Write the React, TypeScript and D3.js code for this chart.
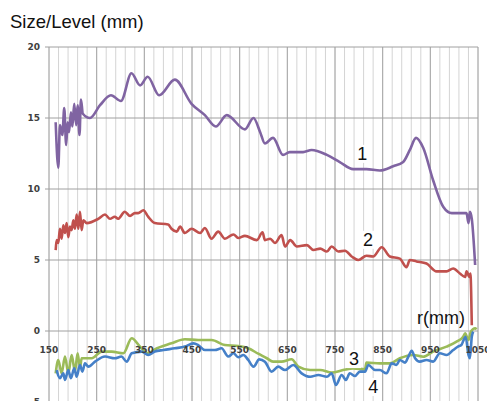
import { line, curveMonotoneX, range, scaleLinear } from 'd3';

// Radial profile: size/level (mm) against r (mm), four measured curves.

const s1X = [164, 169.5, 173, 178, 182, 186, 189, 192, 196, 199, 203, 207, 210, 214, 217, 221, 236, 257, 280, 301, 323, 341, 357, 381, 414, 449, 477, 500, 523, 561, 579, 593, 603, 620, 641, 655, 683, 701, 733, 760, 788, 816, 844, 872, 893, 907, 920, 935, 956, 977, 995, 1026, 1030, 1033, 1037, 1044];
const s1Y = [14.7, 11.5, 14.5, 13.8, 15.7, 13.1, 14.7, 14.0, 15.4, 14.4, 16.0, 14.5, 15.9, 13.8, 16.3, 15.3, 15.0, 15.9, 16.6, 16.2, 18.15, 17.3, 17.9, 16.6, 17.7, 16.0, 15.2, 14.4, 15.2, 14.2, 15.0, 14.0, 13.2, 13.6, 12.4, 12.6, 12.6, 12.75, 12.4, 11.9, 11.4, 11.4, 11.3, 11.6, 11.9, 12.75, 13.6, 12.9, 10.6, 8.75, 8.3, 8.3, 7.6, 8.4, 7.9, 4.65];

const s2X = [164, 166, 169.5, 173, 176.5, 180, 183.5, 187, 190.5, 194, 197.5, 201, 204.5, 208, 211.5, 215, 218.5, 222, 229, 253.5, 267.5, 278, 288, 295, 309, 320, 330, 337, 348, 358, 372, 400, 407, 418, 425, 435, 449, 467, 477, 491, 505, 519, 537, 547, 561, 586, 598, 603, 614, 624, 638, 645, 656, 670, 691, 705, 719, 733, 743, 757, 771, 785, 799, 816, 830, 848, 865, 886, 900, 907, 921, 942, 963, 984, 998, 1012, 1023, 1026, 1032, 1034, 1037];
const s2Y = [5.7, 6.4, 6.2, 7.2, 6.5, 7.45, 6.9, 7.6, 6.6, 7.35, 7.1, 7.8, 7.2, 8.2, 7.2, 8.4, 7.1, 7.8, 7.6, 7.9, 8.2, 7.9, 8.05, 7.9, 8.4, 8.1, 8.3, 8.3, 8.5, 8.05, 7.6, 7.5, 7.2, 7.0, 7.35, 6.9, 7.2, 6.9, 7.25, 6.5, 7.0, 6.5, 6.8, 6.55, 6.7, 6.4, 6.95, 6.4, 6.5, 6.2, 6.75, 5.95, 6.4, 5.95, 6.05, 5.7, 5.8, 5.6, 5.95, 5.6, 5.65, 5.25, 5.0, 5.3, 5.25, 5.9, 5.25, 5.1, 4.5, 5.0, 4.9, 4.75, 4.2, 4.2, 4.4, 4.05, 3.8, 4.2, 3.8, 4.05, 0.4];

const s3X = [164, 169.5, 176.5, 183.5, 190.5, 197.5, 204.5, 210, 215, 218.5, 239.5, 260.5, 281.5, 306, 323.5, 341, 358, 372, 407, 435, 463, 491, 519, 547, 568, 589, 607, 620, 638, 659, 673, 698, 719, 743, 767, 788, 813, 816, 844, 865, 886, 914, 935, 956, 984, 1005, 1019, 1023, 1030, 1035, 1044, 1047];
const s3Y = [-2.98, -2.04, -2.98, -1.8, -2.98, -1.7, -2.86, -1.57, -2.6, -1.92, -1.92, -1.45, -1.45, -1.57, -0.51, -1.1, -1.57, -1.29, -0.87, -0.58, -0.63, -0.63, -0.99, -1.06, -1.22, -1.6, -1.92, -2.16, -2.16, -1.99, -2.51, -2.75, -2.75, -2.93, -2.75, -2.63, -2.7, -2.23, -2.28, -2.28, -1.92, -1.69, -1.81, -1.45, -1.1, -0.75, -0.4, -0.16, -0.63, -0.05, 0.19, 0.12];

const s4X = [166, 173, 180, 183.5, 190.5, 196, 203, 208, 215, 220, 225.5, 232.5, 246.5, 267.5, 288, 302, 313, 323.5, 344.5, 358, 372, 390, 414, 435, 453, 463, 477, 498, 512, 526, 537, 547, 558, 568, 579, 591, 603, 617, 631, 645, 662.5, 680, 698, 715, 733, 743, 752, 764, 773, 781, 792, 802, 813, 820, 834, 844, 858, 869, 879, 886, 897, 904, 911, 918, 928, 942, 956, 970, 984, 998, 1008, 1015, 1020, 1024, 1030, 1033, 1037, 1040];
const s4Y = [-2.75, -3.33, -2.98, -3.45, -2.75, -3.33, -2.63, -3.22, -2.39, -2.86, -2.28, -2.51, -2.16, -1.8, -1.92, -1.8, -2.16, -1.57, -1.45, -1.69, -1.45, -1.34, -1.22, -1.1, -0.87, -0.99, -1.34, -1.34, -1.22, -1.8, -1.57, -1.85, -1.69, -2.04, -2.51, -2.0, -2.16, -2.86, -2.51, -2.75, -2.39, -2.98, -3.22, -3.1, -3.22, -2.98, -3.8, -3.1, -3.45, -2.98, -3.17, -2.86, -2.86, -2.39, -2.75, -2.75, -2.98, -2.28, -2.39, -2.04, -2.23, -1.8, -1.39, -1.92, -2.16, -2.04, -2.16, -1.57, -1.69, -1.34, -1.1, -0.99, -0.63, -0.4, -1.69, -1.92, -0.4, -0.05];

const xTicks = [150, 250, 350, 450, 550, 650, 750, 850, 950, 1050];
const yTicks = [20, 15, 10, 5, 0, -5];

const series = [
  { name: '1', xs: s1X, ys: s1Y, color: '#8064a2' },
  { name: '2', xs: s2X, ys: s2Y, color: '#c0504d' },
  { name: '3', xs: s3X, ys: s3Y, color: '#9bbb59' },
  { name: '4', xs: s4X, ys: s4Y, color: '#4580c8' },
];

// curve labels, placed in data coordinates
const labels = [
  { text: '1', x: 807, y: 12.05 },
  { text: '2', x: 819, y: 6.0 },
  { text: '3', x: 790, y: -2.4 },
  { text: '4', x: 830, y: -4.37 },
];

export default function App() {
  const W = 487;
  const H = 401;
  const xs = scaleLinear().domain([150, 1050]).range([49, 478]);
  const ys = scaleLinear().domain([-5, 20]).range([402, 47]);
  const minor = range(150, 1051, 20);
  const font = '"Liberation Sans", Arial, sans-serif';
  const tickFont = '"DejaVu Sans", Verdana, sans-serif';

  return (
    <svg width={W} height={H} style={{ display: 'block', position: 'absolute', left: 0, top: 0, background: '#fff' }}>
      <defs>
        <clipPath id="plot">
          <rect x={xs(150)} y={ys(20)} width={xs(1050) - xs(150)} height={ys(-5) - ys(20)} />
        </clipPath>
      </defs>
      <text x={10} y={28} style={{ fontFamily: font, fontSize: 18.5 }} fill="#111">
        Size/Level (mm)
      </text>

      {/* grid */}
      {minor.map((v) => (
        <line key={'m' + v} x1={xs(v)} x2={xs(v)} y1={ys(20)} y2={ys(-5)} stroke="#d4d4d4" strokeWidth={1} />
      ))}
      {xTicks.map((v) => (
        <line key={'M' + v} x1={xs(v)} x2={xs(v)} y1={ys(20)} y2={ys(-5)} stroke="#a8a8a8" strokeWidth={1} />
      ))}
      {yTicks.map((v) => (
        <line key={'h' + v} x1={xs(150) - 4} x2={xs(1050)} y1={ys(v)} y2={ys(v)} stroke="#a0a0a0" strokeWidth={1} />
      ))}
      {yTicks.map((v) => (
        <text key={'yt' + v} x={40} y={ys(v)} dy="0.35em" textAnchor="end" fill="#404040" style={{ fontFamily: tickFont, fontSize: 9, fontWeight: 'bold' }}>
          {v}
        </text>
      ))}

      {/* curves */}
      <g clipPath="url(#plot)">
        {series.map((s) => {
          const pts = s.xs.map((x, i) => [x, s.ys[i]] as [number, number]);
          const ln = line<[number, number]>().x((d) => xs(d[0])).y((d) => ys(d[1])).curve(curveMonotoneX);
          return <path key={s.name} d={ln(pts) ?? undefined} fill="none" stroke={s.color} strokeWidth={2.6} strokeLinejoin="round" />;
        })}
      </g>

      {xTicks.map((v) => (
        <text key={'xt' + v} x={xs(v)} y={ys(0) + 22} textAnchor="middle" fill="#404040" style={{ fontFamily: tickFont, fontSize: 9, fontWeight: 'bold' }}>
          {v}
        </text>
      ))}

      {labels.map((l) => (
        <g key={l.text}>
          <rect x={xs(l.x) - 7} y={ys(l.y) - 15} width={14} height={18} fill="#fff" />
          <text x={xs(l.x)} y={ys(l.y)} textAnchor="middle" fill="#111" style={{ fontFamily: font, fontSize: 18 }}>
            {l.text}
          </text>
        </g>
      ))}
      <text x={417} y={324} fill="#111" style={{ fontFamily: font, fontSize: 18 }}>
        r(mm)
      </text>
    </svg>
  );
}
